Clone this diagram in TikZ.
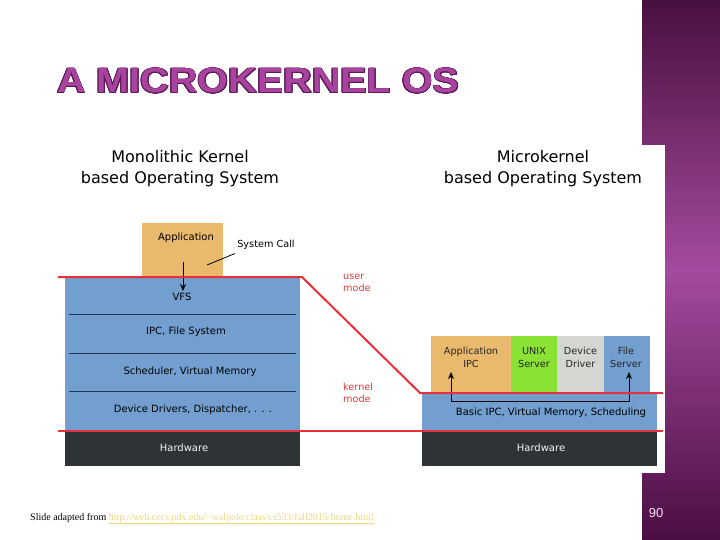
\documentclass[tikz,border=0pt]{standalone}
\usepackage{fontspec}
\setmainfont{DejaVu Sans}
\newfontfamily\titlefont{Liberation Sans}
\newfontfamily\footfont{Liberation Serif}
\usepackage{contour}
\contourlength{0.7pt}
\usetikzlibrary{arrows.meta}
\definecolor{appOrange}{HTML}{E9B96E}
\definecolor{skyBlue}{HTML}{729FCF}
\definecolor{hwDark}{HTML}{2E3436}
\definecolor{srvGreen}{HTML}{8AE234}
\definecolor{drvGray}{HTML}{D3D7CF}
\definecolor{modeRed}{HTML}{E8303A}
\definecolor{modeText}{HTML}{D93A3A}
\definecolor{navyLine}{HTML}{1F3550}
\definecolor{titleFill}{HTML}{A8449F}
\definecolor{titleEdge}{HTML}{5E1A55}
\definecolor{sideDark}{HTML}{48103F}
\definecolor{sideLight}{HTML}{A54A9E}
\definecolor{sideDark2}{HTML}{4A0E43}
\definecolor{linkGold}{HTML}{F2D57E}
\definecolor{pageNum}{HTML}{F6DDF2}
\begin{document}
\begin{tikzpicture}[x=1pt,y=-1pt,
  >={Stealth[length=7pt,width=6pt]},
  layer/.style={inner sep=0pt, outer sep=0pt, draw=none},
  lbl/.style={inner sep=0pt, font=\fontsize{10}{12}\selectfont, text=black},
  hwlbl/.style={inner sep=0pt, font=\fontsize{10}{12}\selectfont, text=white!92!gray},
  boxlbl/.style={inner sep=0pt, font=\fontsize{9.7}{13}\selectfont, align=center, text=black!85},
  headlbl/.style={inner sep=0pt, font=\fontsize{16}{21}\selectfont, align=center, text=black},
  modelbl/.style={inner sep=0pt, font=\fontsize{9.7}{12}\selectfont, align=left, text=modeText, anchor=west},
  modeline/.style={draw=modeRed, line width=2pt},
  divider/.style={draw=navyLine, line width=1pt},
  callarrow/.style={draw=black, line width=0.9pt}
]
\useasboundingbox (0,0) rectangle (720,540);
% side bar
\shade[top color=sideDark, bottom color=sideDark2, middle color=sideLight] (642,0) rectangle (720,540);
\fill[white] (642,145) rectangle (665,473);

% title
\node[inner sep=0pt, anchor=base west] (title) at (57,93)
  {\scalebox{1.13}[1]{\titlefont\bfseries\fontsize{35}{40}\selectfont\contour{titleEdge}{\textcolor{titleFill}{A MICROKERNEL OS}}}};

% headings
\node[headlbl] (monohead) at (180,169) {Monolithic Kernel\\based Operating System};
\node[headlbl] (microhead) at (543,169) {Microkernel\\based Operating System};

% ---------- monolithic ----------
\node[layer, fill=appOrange, minimum width=81pt, minimum height=54pt] (app) at (182.5,250) {};
\node[lbl] (applbl) at (186,238) {Application};
\node[layer, fill=skyBlue, minimum width=235pt, minimum height=153pt] (mono) at (182.5,353.5) {};
\node[layer, fill=hwDark, minimum width=235pt, minimum height=35pt] (hwl) at (182.5,448.5) {};
\draw[divider] (69,314) -- (296,314);
\draw[divider] (69,353) -- (296,353);
\draw[divider] (69,391) -- (296,391);
\node[lbl] (vfs) at (182,297) {VFS};
\node[lbl] (ipcfs) at (186,332) {IPC, File System};
\node[lbl] (sched) at (190,372) {Scheduler, Virtual Memory};
\node[lbl] (devdrv) at (193,410) {Device Drivers, Dispatcher, . . .};
\node[hwlbl] (hwltext) at (184,448) {Hardware};
\node[lbl, font=\fontsize{9.7}{12}\selectfont] (syscall) at (266,244.5) {System Call};
\coordinate (callTop) at (183,262);
\coordinate (callEnd) at (183,291);
\draw[callarrow, ->] (callTop) -- (callEnd);
\coordinate (scA) at (235,253.5);
\coordinate (scB) at (207,265);
\draw[black, line width=0.8pt] (scA) -- (scB);

% ---------- microkernel ----------
\node[layer, fill=appOrange, minimum width=80pt, minimum height=56pt] (aipc) at (471,364) {};
\node[layer, fill=srvGreen, minimum width=46pt, minimum height=56pt] (unix) at (534,364) {};
\node[layer, fill=drvGray, minimum width=47pt, minimum height=56pt] (ddrv) at (580.5,364) {};
\node[layer, fill=skyBlue, minimum width=46pt, minimum height=56pt] (fsrv) at (627,364) {};
\node[layer, fill=skyBlue, minimum width=235pt, minimum height=37pt] (basic) at (539.5,411.5) {};
\node[layer, fill=hwDark, minimum width=235pt, minimum height=35pt] (hwr) at (539.5,448.5) {};
\node[boxlbl] (aipclbl) at (471,357.5) {Application\\IPC};
\node[boxlbl] (unixlbl) at (534,357.5) {UNIX\\Server};
\node[boxlbl] (ddrvlbl) at (580.5,357.5) {Device\\Driver};
\node[boxlbl] (fsrvlbl) at (626,357.5) {File\\Server};
\node[lbl] (basiclbl) at (551,413) {Basic IPC, Virtual Memory, Scheduling};
\node[hwlbl] (hwrtext) at (541,448) {Hardware};
\coordinate (ipcTip) at (451,372);
\coordinate (ipcCorner) at (451,401);
\coordinate (fsCorner) at (629,401);
\coordinate (fsTip) at (629,372);
\draw[callarrow, <->] (ipcTip) -- (ipcCorner) -- (fsCorner) -- (fsTip);

% ---------- mode lines ----------
\coordinate (uA) at (58,277);
\coordinate (uB) at (302,277);
\coordinate (uC) at (420,393);
\coordinate (uD) at (663,393);
\draw[modeline] (uA) -- (uB) -- (uC) -- (uD);
\coordinate (kA) at (58,430.5);
\coordinate (kB) at (663,430.5);
\draw[modeline] (kA) -- (kB);
\node[modelbl] (usermode) at (343,283) {user\\mode};
\node[modelbl] (kernelmode) at (343,393) {kernel\\mode};

% footer
\node[inner sep=0pt, anchor=base west] (footer) at (30,520)
  {\footfont\fontsize{10}{12}\selectfont Slide adapted from \textcolor{linkGold}{\underline{http://web.cecs.pdx.edu/\string~walpole/class/cs533/fall2015/home.html}}};
\node[inner sep=0pt, text=pageNum, font=\titlefont\fontsize{13}{15}\selectfont] (pagenum) at (656,513) {90};
\end{tikzpicture}
\end{document}
